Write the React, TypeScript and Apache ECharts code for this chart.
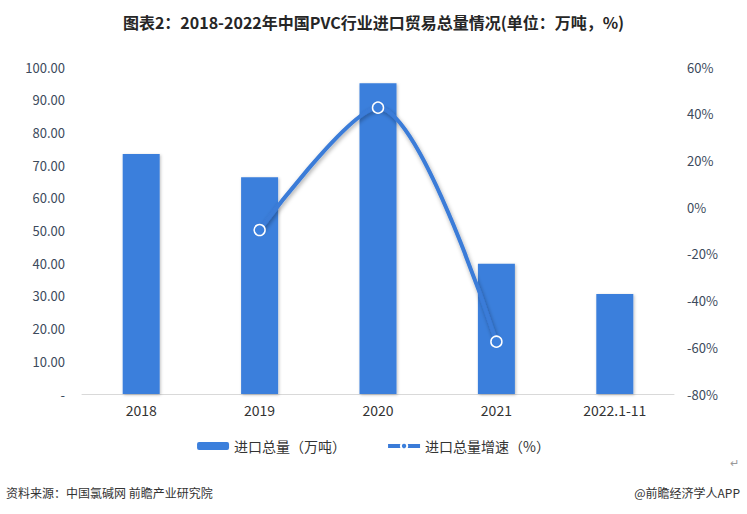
import React, { useEffect, useRef } from "react";
import * as echarts from "echarts";

const categories = ["2018", "2019", "2020", "2021", "2022.1-11"];
const importVolume = [73.4, 66.3, 95.0, 39.8, 30.6];
const importGrowth = [null, -9.8, 42.6, -57.6, null];
const leftTicks = { min: 0, max: 100, interval: 10 };
const rightTicks = { min: -80, max: 60, interval: 20 };

const TITLE = "图表2：2018-2022年中国PVC行业进口贸易总量情况(单位：万吨，%)";
const SOURCE = "资料来源：中国氯碱网 前瞻产业研究院";
const BRAND = "@前瞻经济学人APP";
const SERIES_NAMES = ["进口总量（万吨）", "进口总量增速（%）"];

const BLUE = "#3b7fdc";
const FONT = "'Noto Sans CJK SC', 'Noto Sans', sans-serif";

export default function App() {
  const ref = useRef<HTMLDivElement>(null);
  useEffect(() => {
    if (!ref.current) return;
    const chart = echarts.init(ref.current, null, { renderer: "svg" });
    chart.setOption({
      animation: false,
      backgroundColor: "#ffffff",
      textStyle: { fontFamily: FONT },
      title: {
        text: TITLE,
        left: "center",
        top: 9,
        textStyle: { fontSize: 16, fontWeight: "bold", color: "#262626", fontFamily: FONT },
      },
      legend: {
        left: "center",
        top: 434,
        itemWidth: 32,
        itemHeight: 8,
        itemGap: 40,
        textStyle: { fontSize: 14, color: "#333333", fontFamily: FONT },
        data: [
          { name: SERIES_NAMES[0] },
          { name: SERIES_NAMES[1], lineStyle: { width: 4, shadowBlur: 0, shadowOffsetX: 0, shadowOffsetY: 0 } },
        ],
      },
      grid: { left: 82, right: 73, top: 67, bottom: 120 },
      xAxis: {
        type: "category",
        data: categories,
        axisLine: { lineStyle: { color: "#d9d9d9" } },
        axisTick: { show: false },
        axisLabel: { color: "#333333", fontSize: 14, margin: 9 },
      },
      yAxis: [
        {
          type: "value",
          min: leftTicks.min,
          max: leftTicks.max,
          interval: leftTicks.interval,
          splitLine: { show: false },
          axisLine: { show: false },
          axisTick: { show: false },
          axisLabel: {
            color: "#3c4a5c",
            fontSize: 13,
            margin: 17,
            formatter: (v: number) => (v === 0 ? "-" : v.toFixed(2)),
          },
        },
        {
          type: "value",
          min: rightTicks.min,
          max: rightTicks.max,
          interval: rightTicks.interval,
          splitLine: { show: false },
          axisLine: { show: false },
          axisTick: { show: false },
          axisLabel: {
            color: "#3c4a5c",
            fontSize: 13,
            margin: 13,
            formatter: (v: number) => `${v}%`,
          },
        },
      ],
      series: [
        {
          name: SERIES_NAMES[0],
          type: "bar",
          data: importVolume,
          barWidth: 37,
          itemStyle: {
            color: BLUE,
            shadowBlur: 3,
            shadowColor: "rgba(0,0,0,0.25)",
            shadowOffsetX: 1,
            shadowOffsetY: 1,
          },
        },
        {
          name: SERIES_NAMES[1],
          type: "line",
          yAxisIndex: 1,
          data: importGrowth,
          smooth: 0.3,
          connectNulls: false,
          symbol: "circle",
          symbolSize: 11,
          lineStyle: {
            color: "#3a7bd8",
            width: 4,
            shadowBlur: 4,
            shadowColor: "rgba(0,0,0,0.35)",
            shadowOffsetX: 1,
            shadowOffsetY: 2,
          },
          itemStyle: { color: BLUE, borderColor: "#ffffff", borderWidth: 1.5 },
        },
      ],
      graphic: [
        {
          type: "text",
          left: 6,
          top: 486,
          style: { text: SOURCE, fontSize: 12, fill: "#333333", fontFamily: FONT },
        },
        {
          type: "text",
          right: 7,
          top: 486,
          style: { text: BRAND, fontSize: 12, fill: "#333333", fontFamily: FONT },
        },
        {
          type: "text",
          left: 730,
          top: 456,
          style: { text: "↵", fontSize: 11, fill: "#999999", fontFamily: FONT },
        },
      ],
    });
    return () => chart.dispose();
  }, []);
  return (
    <div
      ref={ref}
      style={{ position: "absolute", left: 0, top: 0, width: 747, height: 514 }}
    />
  );
}
